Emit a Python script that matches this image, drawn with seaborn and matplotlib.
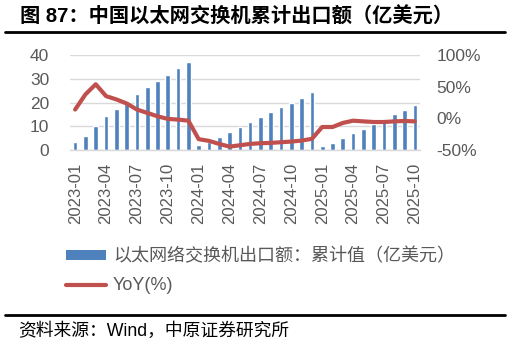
import numpy as np
import pandas as pd
import matplotlib
matplotlib.use("Agg")
import matplotlib.pyplot as plt
from matplotlib.patches import Patch
from matplotlib.lines import Line2D
import seaborn as sns

months = [f"{y}-{m:02d}" for y in (2023, 2024, 2025) for m in range(1, 13)][:34]
export_cum = [3.3, 6.1, 10.0, 14.2, 17.3, 19.2, 23.6, 26.4, 29.2, 31.5, 34.4, 37.0,
              2.2, 3.3, 5.6, 7.7, 9.8, 12.0, 14.1, 15.9, 18.0, 20.0, 22.1, 24.5,
              1.7, 3.1, 5.2, 7.3, 9.0, 10.9, 13.0, 15.0, 17.0, 18.8]
yoy = [13.9, 37.8, 53.8, 35.1, 29.9, 23.5, 13.9, 8.6, 3.2, -0.9, -2.0, -3.7,
       -32.9, -35.6, -40.4, -44.7, -42.5, -40.4, -39.3, -38.8, -37.7, -36.7, -35.1, -32.4,
       -13.7, -13.7, -7.3, -3.7, -4.8, -5.8, -5.8, -4.8, -4.2, -4.8]
left_ticks = [0, 10, 20, 30, 40]
right_ticks = [-50, 0, 50, 100]
title = "图 87：中国以太网交换机累计出口额（亿美元）"
bar_label = "以太网络交换机出口额：累计值（亿美元）"
line_label = "YoY(%)"
source = "资料来源：Wind，中原证券研究所"

df = pd.DataFrame({"month": months, "value": export_cum, "yoy": yoy, "pos": np.arange(len(months))})

sns.set_theme(style="white")
plt.rcParams["font.family"] = ["Liberation Sans", "Noto Sans CJK SC", "DejaVu Sans"]

BLUE = "#4F81BD"
RED = "#C0504D"
GRAY = "#595959"
GRID = "#D9D9D9"

fig = plt.figure(figsize=(5.11, 3.47), dpi=100)
W, H = 511, 347
ax = fig.add_axes([70 / W, 1 - 150 / H, 350 / W, 95 / H])

sns.barplot(data=df, x="month", y="value", color=BLUE, width=0.45, saturation=1, ax=ax, zorder=2)
ax.set_ylim(0, 40)
ax.set_xlim(-0.5, len(months) - 0.5)
ax.set_yticks(left_ticks)
ax.yaxis.grid(True, color=GRID, lw=1)
ax.set_axisbelow(True)
ax.set_xlabel("")
ax.set_ylabel("")
for s in ["top", "right", "left"]:
    ax.spines[s].set_visible(False)
ax.spines["bottom"].set_color(GRID)
ax.spines["bottom"].set_linewidth(1)

idx = list(range(0, len(months), 3))
ax.set_xticks(idx)
ax.set_xticklabels([months[i] for i in idx], rotation=90, fontsize=12, color=GRAY)
ax.set_xticks([i - 0.5 for i in idx], minor=True)
ax.tick_params(axis="x", which="major", length=0, pad=9)
ax.tick_params(axis="x", which="minor", length=4, color=GRID, width=1)
ax.tick_params(axis="y", length=0, pad=15, labelsize=12.5, labelcolor=GRAY)

ax2 = ax.twinx()
sns.lineplot(data=df, x="pos", y="yoy", color=RED, lw=3, ax=ax2, zorder=3)
ax2.set_ylim(-50, 100)
ax2.set_yticks(right_ticks)
ax2.set_yticklabels([f"{t}%" for t in right_ticks])
ax2.tick_params(axis="y", length=0, pad=12, labelsize=12.5, labelcolor=GRAY)
ax2.set_xlabel("")
ax2.set_ylabel("")
for s in ax2.spines.values():
    s.set_visible(False)

fig.text(20 / W, 1 - 17 / H, title, fontsize=14.6, fontweight="bold", va="center", ha="left", color="black")
fig.add_artist(Line2D([5 / W, 505 / W], [1 - 32 / H, 1 - 32 / H], color="black", lw=2))
fig.add_artist(Line2D([5 / W, 505 / W], [1 - 315 / H, 1 - 315 / H], color="black", lw=2))
fig.text(18 / W, 1 - 331 / H, source, fontsize=12.8, va="center", ha="left", color="black")

handles = [Patch(facecolor=BLUE, edgecolor="none"), Line2D([0], [0], color=RED, lw=3)]
leg = fig.legend(handles, [bar_label, line_label], loc="upper left",
                 bbox_to_anchor=(66 / W, 1 - 248 / H), frameon=False, fontsize=13,
                 handlelength=2.2, handleheight=0.42, handletextpad=0.4, labelspacing=0.65, borderpad=0,
                 borderaxespad=0)
for t in leg.get_texts():
    t.set_color(GRAY)

fig.savefig("out.png", dpi=100)
